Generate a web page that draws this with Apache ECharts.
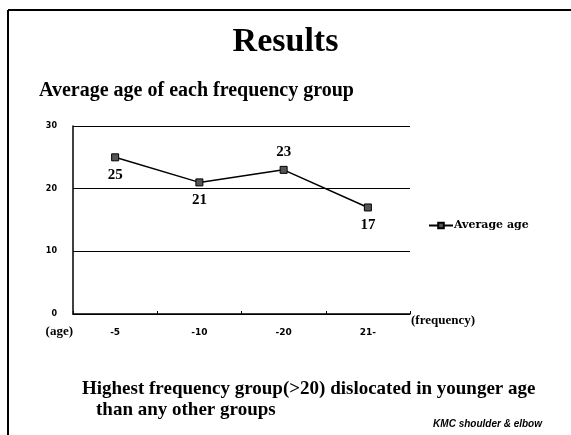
<!DOCTYPE html>
<html>
<head>
<meta charset="utf-8">
<script src="https://cdn.jsdelivr.net/npm/echarts@6/dist/echarts.min.js"></script>
<style>
  html, body { margin: 0; padding: 0; background: #fff; }
  #chart { width: 571px; height: 435px; }
</style>
</head>
<body>
<div id="chart"></div>
<script>
// data
var groups = ['-5', '-10', '-20', '21-'];
var averageAge = [25, 21, 23, 17];
var labelPos = ['bottom', 'bottom', 'top', 'bottom'];
var ageTicks = { min: 0, max: 30, step: 10 };

var chart = echarts.init(document.getElementById('chart'), null, { renderer: 'canvas' });

var serif = '"Liberation Serif", "Times New Roman", serif';
var sans = '"DejaVu Sans", Arial, sans-serif';

var option = {
  backgroundColor: '#fff',
  animation: false,
  title: [
    {
      text: 'Results',
      left: 'center', top: 20,
      textStyle: { fontFamily: serif, fontSize: 34, fontWeight: 'bold', color: '#000' }
    },
    {
      text: 'Average age of each frequency group',
      left: 34, top: 76,
      textStyle: { fontFamily: serif, fontSize: 20, fontWeight: 'bold', color: '#000' }
    },
    {
      text: 'Highest frequency group(>20) dislocated in younger age',
      left: 77, top: 375,
      textStyle: { fontFamily: serif, fontSize: 19, fontWeight: 'bold', color: '#000' }
    },
    {
      text: 'than any other groups',
      left: 91, top: 396,
      textStyle: { fontFamily: serif, fontSize: 19, fontWeight: 'bold', color: '#000' }
    },
    {
      text: '{b|KMC} shoulder & elbow',
      right: 24, top: 414,
      textStyle: {
        fontFamily: 'Liberation Sans, Arial, sans-serif', fontSize: 10, fontStyle: 'italic', color: '#000',
        rich: { b: { fontFamily: 'Liberation Sans, Arial, sans-serif', fontSize: 10, fontStyle: 'italic', fontWeight: 'bold' } }
      }
    }
  ],
  legend: {
    data: ['Average age'],
    left: 423, top: 215,
    itemWidth: 24, itemHeight: 7, itemGap: 2,
    textStyle: { fontFamily: '"DejaVu Serif", serif', fontSize: 11, fontWeight: 'bold', color: '#000', padding: [0, 0, 0, -4] }
  },
  grid: { left: 73, right: 161, top: 126, bottom: 121, containLabel: false },
  xAxis: {
    type: 'category',
    data: groups,
    boundaryGap: true,
    name: '(frequency)',
    nameLocation: 'end',
    nameGap: 1,
    nameTextStyle: { fontFamily: serif, fontSize: 13, fontWeight: 'bold', color: '#000', verticalAlign: 'top' },
    axisLine: { lineStyle: { color: '#000', width: 1.5 } },
    axisTick: { show: true, inside: true, length: 3, lineStyle: { color: '#000' } },
    axisLabel: { margin: 14, fontFamily: sans, fontSize: 9, fontWeight: 'bold', color: '#000' },
    splitLine: { show: false }
  },
  yAxis: {
    type: 'value',
    min: ageTicks.min, max: ageTicks.max, interval: ageTicks.step,
    name: '(age)',
    nameLocation: 'start',
    nameGap: 18,
    nameTextStyle: { fontFamily: serif, fontSize: 13, fontWeight: 'bold', color: '#000', align: 'right', verticalAlign: 'middle' },
    axisLine: { show: true, lineStyle: { color: '#000', width: 1.5 } },
    axisTick: { show: false },
    axisLabel: { margin: 16, fontFamily: sans, fontSize: 8, fontWeight: 'bold', color: '#000' },
    splitLine: { show: true, lineStyle: { color: '#000', width: 1 } }
  },
  series: [{
    name: 'Average age',
    type: 'line',
    data: averageAge.map(function (v, i) {
      return { value: v, label: { position: labelPos[i] } };
    }),
    symbol: 'rect',
    symbolSize: 7,
    itemStyle: { color: '#555', borderColor: '#000', borderWidth: 1 },
    lineStyle: { color: '#000', width: 1.5 },
    label: {
      show: true, distance: 6,
      fontFamily: serif, fontSize: 15, fontWeight: 'bold', color: '#000'
    }
  }],
  graphic: [
    { type: 'line', shape: { x1: 8, y1: 10, x2: 571, y2: 10 }, style: { stroke: '#000', lineWidth: 2 } },
    { type: 'line', shape: { x1: 8, y1: 10, x2: 8, y2: 435 }, style: { stroke: '#000', lineWidth: 2 } }
  ]
};

chart.setOption(option);
</script>
</body>
</html>
